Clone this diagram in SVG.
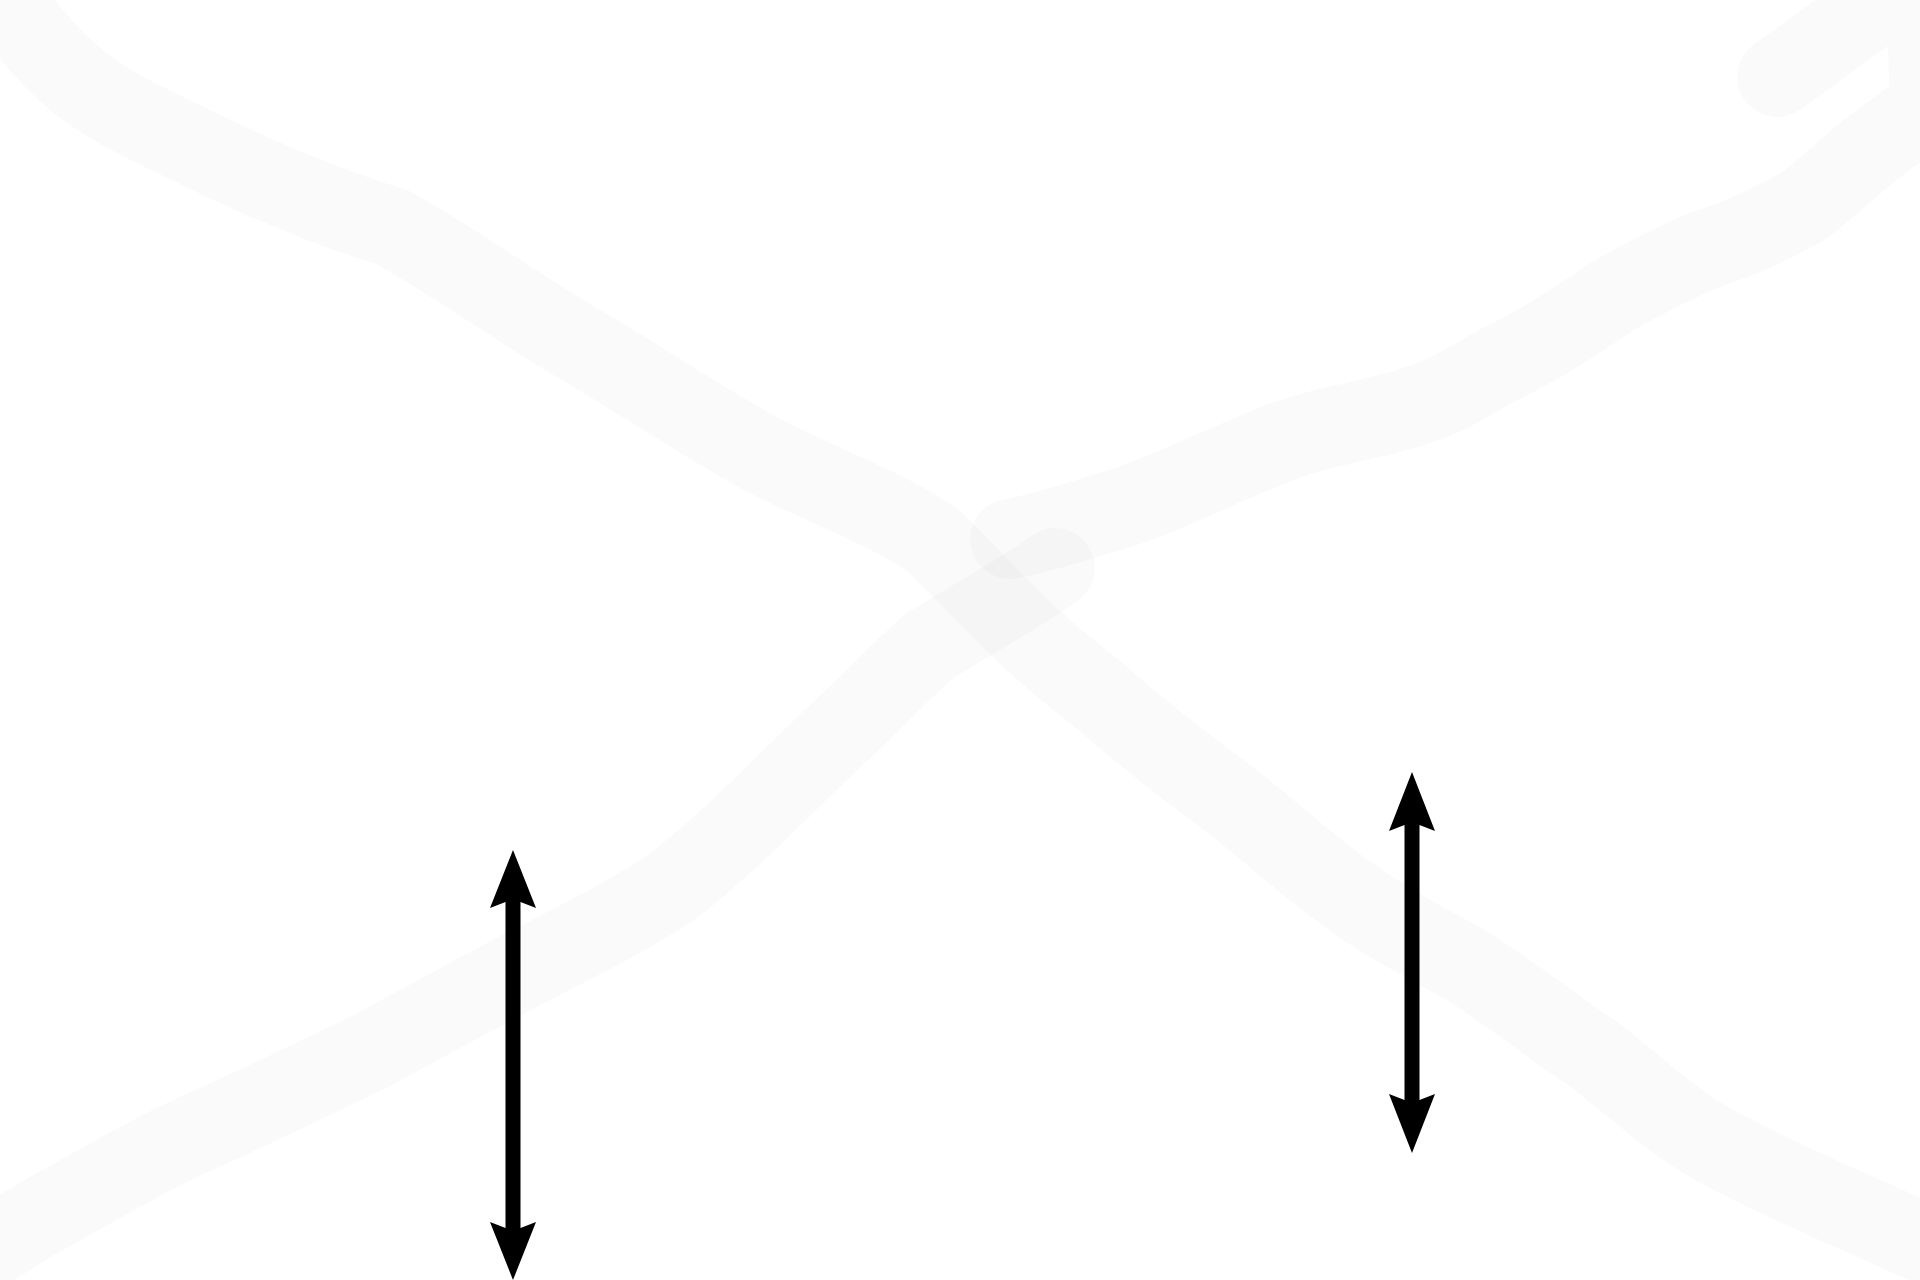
<svg xmlns="http://www.w3.org/2000/svg" width="1920" height="1280" viewBox="0 0 1920 1280">
<style>
.band{fill:none;stroke:#000;stroke-opacity:0.02;stroke-width:80;stroke-linecap:round;stroke-linejoin:round}
.arrow{fill:#000;stroke:none}
</style>
<rect width="1920" height="1280" fill="#ffffff"/>
<g id="background">
<path class="band" d="M28,30 C60,70 90,95 140,120 C200,150 300,200 392,227 C460,265 520,310 588,349 C640,380 700,420 759,453 C820,485 880,505 931,539 C960,565 990,600 1029,637 C1060,665 1080,680 1102,698 C1150,740 1190,770 1225,796 C1270,830 1300,860 1347,894 C1390,925 1430,945 1469,967 C1520,1000 1550,1025 1592,1053 C1640,1090 1670,1120 1714,1145 C1790,1185 1850,1210 1940,1250"/>
<path class="band" d="M1777,77 L1925,-30 L1930,105 L1870,150 C1840,175 1820,195 1800,208 C1760,230 1740,238 1702,251 C1670,265 1650,275 1616,294 C1570,325 1540,345 1506,361 C1470,380 1450,395 1421,404 C1380,418 1360,420 1323,429 C1280,440 1250,455 1212,471 C1170,490 1140,503 1102,514 C1070,524 1040,533 1010,539"/>
<path class="band" d="M1055,568 C1010,600 970,620 931,645 C895,675 870,705 833,738 C800,770 770,800 735,833 C710,855 690,875 661,894 C620,920 580,940 527,967 C470,997 420,1025 367,1053 C300,1085 250,1110 184,1139 C130,1165 90,1190 49,1212 C25,1225 10,1235 -20,1255"/>
</g>
<g id="connectors">
<path id="arrow-left" class="arrow" d="M513,850 L536,908 L520.5,902 L520.5,1228 L536,1222 L513,1280 L490,1222 L505.5,1228 L505.5,902 L490,908 Z"/>
<path id="arrow-right" class="arrow" d="M1412,772 L1435,831 L1419.5,825 L1419.5,1100 L1435,1094 L1412,1153 L1389,1094 L1404.5,1100 L1404.5,825 L1389,831 Z"/>
</g>
</svg>
